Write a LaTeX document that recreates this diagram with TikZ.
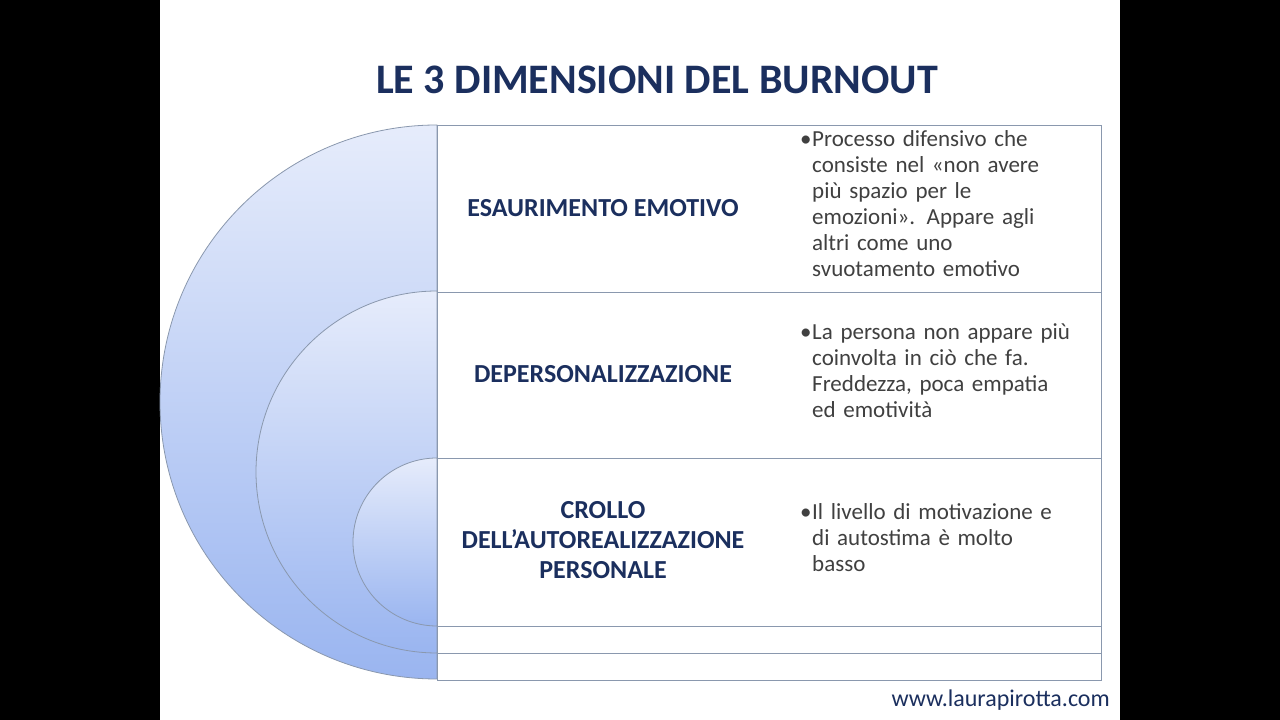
\documentclass[tikz,border=0pt]{standalone}
\usepackage{fontspec}
\setmainfont{Carlito}
\definecolor{navy}{HTML}{1B2F5E}
\definecolor{bodytext}{HTML}{404040}
\definecolor{framegray}{HTML}{8A98AE}
\definecolor{paleblue}{HTML}{E6ECFB}
\definecolor{deepblue}{HTML}{9AB5F0}
\tikzset{
	half disc/.style={draw=framegray,line width=0.8pt,top color=paleblue,bottom color=deepblue},
	row box/.style={draw=framegray,line width=0.8pt,fill=white},
	dim label/.style={font=\fontsize{26}{30}\selectfont\bfseries,text=navy,align=center},
	dim text/.style={font=\fontsize{23}{26}\selectfont,text=bodytext,text width=300pt,align=left,anchor=north west,inner sep=0pt}
}
\newcommand{\bul}{\makebox[12pt][l]{\textbullet}}
\newcommand{\ind}{\hspace*{12pt}}
\begin{document}
\begin{tikzpicture}[x=1pt,y=1pt]
	    \fill[black] (0,0) rectangle (1280,720);
	    \fill[white] (160,0) rectangle (1120,720);
	    \useasboundingbox (0,0) rectangle (1280,720);

	    \node[font=\fontsize{42}{48}\selectfont\bfseries,text=navy] (title) at (657,640) {LE 3 DIMENSIONI DEL BURNOUT};

	    % half discs
	    \draw[half disc] (437,595) arc[start angle=90,end angle=270,radius=277] -- cycle;
	    \draw[half disc] (437,429) arc[start angle=90,end angle=270,radius=181] -- cycle;
	    \draw[half disc] (437,262) arc[start angle=90,end angle=270,radius=84] -- cycle;

	    % rows
	    \draw[row box] (437,428) rectangle (1101,595);
	    \draw[row box] (437,262) rectangle (1101,428);
	    \draw[row box] (437,94) rectangle (1101,262);
	    \draw[row box] (437,67) rectangle (1101,94);
	    \draw[row box] (437,40) rectangle (1101,67);

	    \node[dim label] (esa) at (603,512) {ESAURIMENTO EMOTIVO};
	    \node[dim label] (dep) at (603,346) {DEPERSONALIZZAZIONE};
	    \node[dim label] (cro) at (603,180) {CROLLO\\DELL’AUTOREALIZZAZIONE\\PERSONALE};

	    \node[dim text] (esatext) at (800,590) {\bul Processo difensivo che\\\ind consiste nel «non avere\\\ind più spazio per le\\\ind emozioni». Appare agli\\\ind altri come uno\\\ind svuotamento emotivo};
	    \node[dim text] (deptext) at (800,397) {\bul La persona non appare più\\\ind coinvolta in ciò che fa.\\\ind Freddezza, poca empatia\\\ind ed emotività};
	    \node[dim text] (crotext) at (800,217) {\bul Il livello di motivazione e\\\ind di autostima è molto\\\ind basso};

	    \node[font=\fontsize{24}{28}\selectfont,text=navy,anchor=east,inner sep=0pt] (web) at (1110,20) {www.laurapirotta.com};
	  \end{tikzpicture}
\end{document}
